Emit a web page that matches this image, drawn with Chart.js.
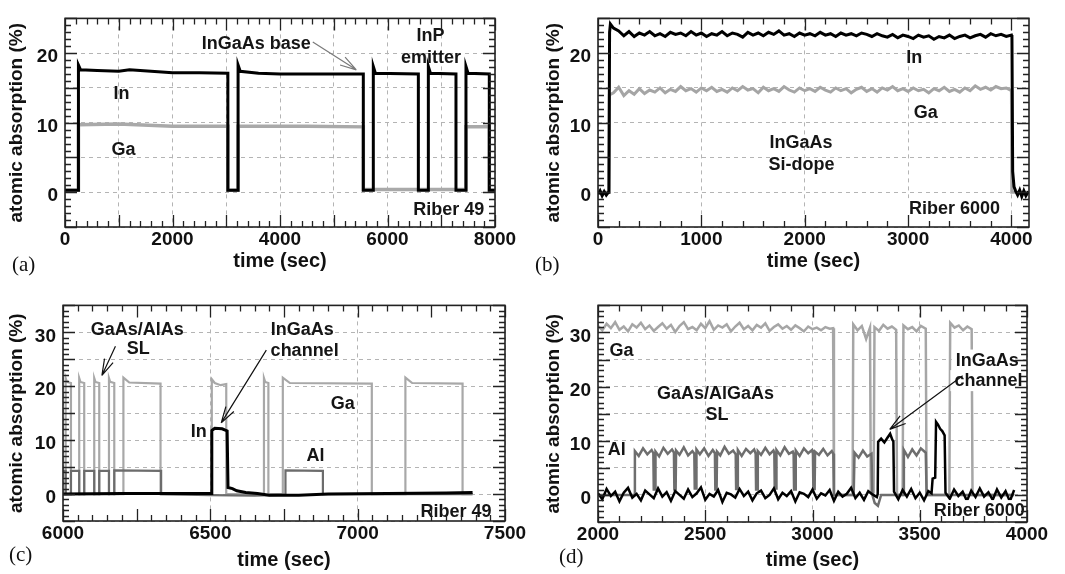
<!DOCTYPE html>
<html>
<head>
<meta charset="utf-8">
<script src="https://cdn.jsdelivr.net/npm/chart.js@4.4.0/dist/chart.umd.min.js"></script>
<style>
html, body { margin: 0; padding: 0; background: #fff; }
.panel { position: absolute; }
</style>
</head>
<body>
<div class="panel" style="left:0;top:0"><canvas id="pa" width="532" height="287"></canvas></div>
<div class="panel" style="left:532px;top:0"><canvas id="pb" width="533" height="287"></canvas></div>
<div class="panel" style="left:0;top:287px"><canvas id="pc" width="532" height="287"></canvas></div>
<div class="panel" style="left:532px;top:287px"><canvas id="pd" width="533" height="287"></canvas></div>
<script>
// axis grid / label values
const aXGrid = [0, 1000, 2000, 3000, 4000, 5000, 6000, 7000, 8000];
const aXLabels = [0, 2000, 4000, 6000, 8000];
const bXGrid = [0, 1000, 2000, 3000, 4000];
const cXGrid = [6000, 6500, 7000, 7500];
const dXGrid = [2000, 2500, 3000, 3500, 4000];
const abYGrid = [-5, 0, 5, 10, 15, 20, 25];
const abYLabels = [0, 10, 20];
const cdYGrid = [-5, 0, 5, 10, 15, 20, 25, 30, 35];
const cdYLabels = [0, 10, 20, 30];

// (a) Riber 49, InGaAs base / InP emitter
const aInT = [0, 250, 250, 290, 600, 1000, 1200, 1600, 2000, 2500, 3030, 3030, 3220, 3220, 3260, 3600, 4000, 4800, 5550, 5550, 5736, 5736, 5776, 6574, 6574, 6760, 6760, 6800, 7274, 7274, 7460, 7460, 7500, 7894, 7894, 8000];
const aInV = [0.3, 0.3, 18.3, 17.6, 17.5, 17.4, 17.6, 17.4, 17.2, 17.2, 17.1, 0.3, 0.3, 18.3, 17.4, 17.1, 17.0, 17.0, 17.0, 0.3, 0.3, 18.1, 17.1, 17.0, 0.3, 0.3, 18.1, 17.1, 17.0, 0.3, 0.3, 18.1, 17.1, 17.0, 0.3, 0.3];
const aGaT = [0, 250, 250, 1000, 2000, 3030, 3030, 3220, 3220, 4500, 5550, 5550, 7460, 7460, 7894, 7894, 8000];
const aGaV = [0.3, 0.3, 9.7, 9.8, 9.5, 9.5, 0.3, 0.3, 9.5, 9.5, 9.4, 0.4, 0.4, 9.4, 9.4, 0.3, 0.3];

// (b) Riber 6000, InGaAs Si-dope
const bMidT = [150, 200, 250, 300, 350, 400, 450, 500, 550, 600, 650, 700, 750, 800, 850, 900, 950, 1000,
  1050, 1100, 1150, 1200, 1250, 1300, 1350, 1400, 1450, 1500, 1550, 1600, 1650, 1700, 1750, 1800, 1850, 1900, 1950, 2000,
  2050, 2100, 2150, 2200, 2250, 2300, 2350, 2400, 2450, 2500, 2550, 2600, 2650, 2700, 2750, 2800, 2850, 2900, 2950, 3000,
  3050, 3100, 3150, 3200, 3250, 3300, 3350, 3400, 3450, 3500, 3550, 3600, 3650, 3700, 3750, 3800, 3850, 3900, 3950, 4000];
const bInT = [0, 20, 40, 60, 80, 100, 106, 112, 120, 135].concat(bMidT, [4005, 4012, 4025, 4040, 4060, 4080, 4100, 4120, 4140, 4165]);
const bInV = [-0.3, 0.2, -0.5, 0.1, -0.4, 0.0, 0.1, 23.0, 24.2, 23.9,
  23.6, 23.2, 22.5, 23.1, 22.4, 22.9, 22.6, 23.1, 22.5, 22.8, 22.4, 23.0, 22.7, 22.9, 22.5, 23.1, 22.6, 22.9,
  22.4, 22.8, 22.6, 23.1, 22.5, 22.9, 22.7, 22.3, 23.0, 22.6, 22.9, 22.5, 23.0, 22.7, 23.2, 22.6, 22.8, 22.4, 22.9, 22.6,
  22.8, 22.5, 23.0, 22.6, 22.8, 22.4, 22.9, 22.6, 22.8, 22.5, 22.9, 22.7, 22.4, 22.8, 22.5, 22.3, 22.7, 22.2, 22.6, 22.4,
  22.1, 22.6, 22.3, 22.5, 22.0, 22.4, 22.2, 22.6, 22.1, 22.4, 22.6, 22.2, 22.5, 22.7, 22.3, 22.8, 22.5, 22.7, 22.4, 22.6,
  22.3, 3.0, 0.8, 0.2, -0.4, 0.3, -0.6, 0.2, -0.5, 0.1];
const bGaT = [0, 105, 110].concat(bMidT, [4003, 4165]);
const bGaV = [0, 0, 14.0,
  14.3, 15.1, 13.9, 14.6, 14.1, 14.9, 14.2, 14.7, 14.4, 15.0, 14.3, 14.8, 14.5, 15.2, 14.6, 14.9, 14.4, 15.0,
  14.6, 15.1, 14.5, 14.8, 14.4, 15.0, 14.6, 15.2, 14.7, 14.9, 14.3, 15.1, 14.6, 14.9, 14.5, 15.2, 14.7, 14.4, 15.0, 14.6,
  14.9, 14.5, 15.1, 14.7, 14.4, 15.0, 14.6, 14.9, 14.3, 14.8, 15.1, 14.5, 14.9, 14.4, 15.0, 14.7, 15.2, 14.6, 14.9, 14.5,
  15.0, 14.6, 14.8, 14.3, 14.9, 14.6, 15.1, 14.5, 14.8, 14.4, 15.0, 14.6, 15.3, 14.8, 15.1, 14.7, 15.2, 14.9, 15.0, 14.6,
  0, 0];

// (c) Riber 49, GaAs/AlAs SL + InGaAs channel
const cGaT = [6000, 6009, 6009, 6013, 6027, 6027, 6055, 6055, 6059, 6072, 6072, 6106, 6106, 6110, 6123, 6123, 6156, 6156, 6160, 6174, 6174,
  6205, 6205, 6225, 6331, 6331, 6505, 6505, 6515, 6535, 6554, 6554, 6682, 6682, 6686, 6697, 6697, 6746, 6746, 6770, 7048, 7048,
  7162, 7162, 7185, 7356, 7356, 7390];
const cGaV = [0, 0, 21.5, 20.8, 20.6, 0, 0, 21.5, 20.8, 20.6, 0, 0, 21.5, 20.8, 20.6, 0, 0, 21.5, 20.8, 20.6, 0,
  0, 21.6, 20.7, 20.5, 0, 0, 21.3, 20.6, 20.2, 20.4, 0, 0, 21.5, 20.8, 20.6, 0, 0, 21.6, 20.6, 20.5, 0,
  0, 21.6, 20.6, 20.5, 0, 0];
const cAlT = [6000, 6009, 6009, 6027, 6027, 6055, 6055, 6072, 6072, 6106, 6106, 6123, 6123, 6156, 6156, 6174, 6174, 6333, 6333, 6500, 6650, 6755, 6755, 6882, 6882, 7390];
const cAlV = [4.3, 4.3, 0, 0, 4.3, 4.3, 0, 0, 4.3, 4.3, 0, 0, 4.3, 4.3, 0, 0, 4.4, 4.3, 0, -0.2, -0.3, -0.1, 4.4, 4.3, 0, 0];
const cInT = [6000, 6200, 6400, 6505, 6505, 6515, 6540, 6557, 6560, 6575, 6590, 6620, 6660, 6700, 6800, 6900, 7100, 7300, 7390];
const cInV = [0, 0.1, 0.1, 0.1, 11.8, 12.2, 12.1, 11.7, 1.2, 1.0, 0.6, 0.3, 0.1, -0.2, -0.2, 0, 0.1, 0.2, 0.3];

// (d) Riber 6000, GaAs/AlGaAs SL + InGaAs channel
const dT20 = [2000, 2020, 2040, 2060, 2080, 2100, 2120, 2140, 2160, 2180, 2200, 2220, 2240, 2260, 2280, 2300, 2320, 2340, 2360, 2380,
  2400, 2420, 2440, 2460, 2480, 2500, 2520, 2540, 2560, 2580, 2600, 2620, 2640, 2660, 2680, 2700, 2720, 2740, 2760, 2780,
  2800, 2820, 2840, 2860, 2880, 2900, 2920, 2940, 2960, 2980, 3000, 3020, 3040, 3060, 3080, 3100, 3120, 3140, 3160, 3180,
  3200, 3220, 3240, 3260, 3280, 3300];
const dGaT = dT20.slice(0, 55).concat([3096, 3100, 3187, 3190, 3210, 3230, 3250, 3268, 3272, 3285, 3289, 3310, 3330, 3350, 3370, 3390, 3394,
  3420, 3424, 3445, 3465, 3485, 3505, 3528, 3532, 3638, 3642, 3662, 3682, 3702, 3722, 3742, 3746, 3940]);
const dGaV = [31.2, 30.4, 31.6, 30.8, 31.9, 30.5, 31.1, 30.2, 31.5, 30.9, 31.8, 30.6, 31.3, 30.3, 31.0, 31.7, 30.7, 31.4, 30.1, 31.2,
  31.9, 30.6, 31.0, 30.4, 31.6, 30.8, 32.1, 30.5, 31.3, 30.9, 31.5, 30.2, 31.1, 31.8, 30.6, 31.2, 30.4, 31.4, 30.9, 31.7,
  30.3, 31.0, 31.5, 30.7, 31.2, 30.5, 31.3, 30.8, 30.2, 31.1, 30.6, 30.9, 30.4, 31.0, 30.7,
  30.8, 0, 0, 31.5, 30.4, 31.2, 28.8, 30.9, 0.5, 0.5, 31.0, 30.3, 31.4, 30.7, 31.1, 30.5, 0,
  0, 31.3, 30.6, 31.0, 30.2, 31.2, 30.7, 0, 0, 31.8, 30.9, 31.3, 30.4, 31.1, 30.6, 0, 0];
const dAlT = [2000, 2168, 2172, 2190, 2210, 2230, 2250, 2258, 2260, 2266, 2268, 2285, 2305, 2325, 2345, 2354, 2356, 2362, 2364, 2380,
  2400, 2420, 2440, 2449, 2451, 2457, 2459, 2475, 2495, 2515, 2535, 2545, 2547, 2553, 2555, 2570, 2590, 2610, 2630, 2642,
  2644, 2650, 2652, 2670, 2690, 2710, 2728, 2735, 2737, 2743, 2745, 2760, 2780, 2800, 2818, 2822, 2824, 2830, 2832, 2850,
  2870, 2890, 2908, 2912, 2914, 2920, 2922, 2940, 2960, 2980, 2998, 3002, 3004, 3010, 3012, 3030, 3050, 3070, 3090, 3097,
  3100, 3192, 3196, 3215, 3235, 3255, 3275, 3279, 3290, 3305, 3320, 3422, 3426, 3445, 3465, 3485, 3505, 3528, 3532, 3940];
const dAlV = [0, 0, 8.1, 7.2, 8.6, 7.5, 8.3, 7.7, 1.0, 1.0, 8.0, 7.1, 8.7, 7.6, 8.4, 7.8, 1.0, 1.0, 8.2, 7.4,
  8.8, 7.3, 8.1, 7.6, 1.2, 1.2, 8.4, 7.5, 8.6, 7.2, 8.3, 7.7, 1.0, 1.0, 8.0, 7.3, 8.9, 7.6, 8.2, 7.5,
  1.1, 1.1, 8.3, 7.2, 8.5, 7.7, 8.4, 7.6, 1.0, 1.0, 8.1, 7.4, 8.7, 7.5, 8.2, 7.8, 1.2, 1.2, 8.3, 7.3,
  8.8, 7.6, 8.0, 7.5, 1.0, 1.0, 8.2, 7.2, 8.6, 7.7, 8.3, 7.6, 1.1, 1.1, 8.0, 7.4, 8.5, 7.3, 8.1, 7.6,
  0, 0, 7.8, 6.9, 8.2, 7.1, 7.6, 0, -1.5, -2.0, 0, 0, 8.3, 7.0, 8.4, 7.3, 8.6, 7.8, 0, 0];
const dInT = dT20.concat([3304, 3306, 3320, 3335, 3350, 3362, 3372, 3377, 3380, 3400, 3420, 3440, 3460, 3480, 3500, 3520, 3540, 3555, 3560, 3572,
  3576, 3585, 3595, 3605, 3616, 3620, 3640, 3660, 3680, 3700, 3720, 3740, 3760, 3780, 3800, 3820, 3840, 3860, 3880, 3900, 3920, 3940]);
const dInV = [0.3, -0.8, 1.1, -0.2, 0.6, -1.2, 0.4, 1.3, -0.5, 0.2, -1.0, 0.8, 0.1, -0.6, 1.2, -0.3, 0.5, -1.1, 0.7, 0.0,
  -0.7, 1.0, -0.4, 0.3, 1.4, -0.9, 0.2, -0.3, 0.9, -1.3, 0.4, 0.1, -0.5, 1.1, -0.2, 0.6, -1.0, 0.3, 0.8, -0.6,
  0.0, 1.2, -0.8, 0.4, -0.2, 0.7, -1.2, 0.5, 0.2, -0.4, 1.0, -0.7, 0.3, -0.1, 0.9, -1.1, 0.6, -0.3, 0.2, 1.3,
  -0.6, 0.4, -0.9, 0.7, 0.1, -0.4,
  0.2, 9.8, 10.4, 9.7, 10.6, 11.3, 10.2, 9.9, 0.6, -0.8, 0.9, -0.3, 1.1, -0.6, 0.4, -1.0, 0.7, 0.3, 3.0, 3.2,
  13.5, 13.0, 12.2, 11.8, 11.0, 0.4, -0.7, 1.0, -0.2, 0.6, -1.1, 0.8, -0.4, 1.2, -0.3, 0.5, -0.9, 1.0, -0.5, 0.7, -1.2, 0.9];

const FONT = '"Liberation Sans", Arial, Helvetica, sans-serif';

function pts(t, v) { return t.map((x, i) => ({ x: x, y: v[i] })); }
function isMult(v, m) { return Math.abs(v / m - Math.round(v / m)) < 1e-6; }

function decor(cfg) {
  return {
    id: 'decor',
    afterDatasetsDraw(chart) {
      const c = chart.ctx, a = chart.chartArea, sx = chart.scales.x, sy = chart.scales.y;
      c.save();
      c.font = 'bold 18px ' + FONT;
      c.textBaseline = 'middle';
      cfg.notes.forEach(n => {
        const px = sx.getPixelForValue(n.x), py = sy.getPixelForValue(n.y);
        c.textAlign = n.align || 'center';
        if (n.box) {
          const w = c.measureText(n.text).width;
          const x0 = n.align === 'right' ? px - w : px - w / 2;
          c.fillStyle = '#fff';
          c.fillRect(x0 - 4, py - 10, w + 8, 21);
        }
        c.fillStyle = '#151515';
        c.fillText(n.text, px, py + 1);
      });
      cfg.arrows.forEach(r => {
        const x0 = sx.getPixelForValue(r.from[0]), y0 = sy.getPixelForValue(r.from[1]);
        const x1 = sx.getPixelForValue(r.to[0]), y1 = sy.getPixelForValue(r.to[1]);
        const ang = Math.atan2(y1 - y0, x1 - x0);
        c.strokeStyle = r.color;
        c.lineWidth = 1.2;
        c.beginPath();
        c.moveTo(x0, y0);
        c.lineTo(x1, y1);
        [-0.28, 0.28].forEach(d => {
          c.moveTo(x1, y1);
          c.lineTo(x1 - 17 * Math.cos(ang + d), y1 - 17 * Math.sin(ang + d));
        });
        c.stroke();
      });
      // inward ticks on all four sides
      c.strokeStyle = '#222';
      c.lineWidth = 1.3;
      c.beginPath();
      const xt = cfg.xTicks, yt = cfg.yTicks;
      for (let v = Math.ceil(sx.min / xt.minor) * xt.minor; v <= sx.max + 1e-6; v += xt.minor) {
        const p = Math.round(sx.getPixelForValue(v)) + 0.5;
        const len = isMult(v, xt.major) ? 12 : 6;
        c.moveTo(p, a.bottom); c.lineTo(p, a.bottom - len);
        c.moveTo(p, a.top); c.lineTo(p, a.top + len);
      }
      for (let v = Math.ceil(sy.min / yt.minor) * yt.minor; v <= sy.max + 1e-6; v += yt.minor) {
        const p = Math.round(sy.getPixelForValue(v)) + 0.5;
        const len = isMult(v, yt.major) ? 12 : 6;
        c.moveTo(a.left, p); c.lineTo(a.left + len, p);
        c.moveTo(a.right, p); c.lineTo(a.right - len, p);
      }
      c.stroke();
      c.lineWidth = 1.6;
      c.strokeRect(a.left, a.top, a.right - a.left, a.bottom - a.top);
      c.restore();
    },
    afterDraw(chart) {
      const c = chart.ctx;
      c.save();
      c.font = '21px "Liberation Serif", "Times New Roman", serif';
      c.fillStyle = '#111';
      c.textBaseline = 'middle';
      c.textAlign = 'left';
      c.fillText(cfg.letter, cfg.letterPos[0], cfg.letterPos[1]);
      c.restore();
    }
  };
}

function makeChart(id, cfg) {
  return new Chart(document.getElementById(id), {
    type: 'line',
    data: {
      datasets: cfg.series.map(s => ({
        data: pts(s.t, s.v),
        borderColor: s.color,
        borderWidth: s.width,
        pointRadius: 0,
        tension: 0,
        fill: false
      }))
    },
    options: {
      responsive: false,
      animation: false,
      events: [],
      layout: { padding: { top: cfg.pad[0], right: cfg.pad[1], bottom: 0, left: 0 } },
      plugins: { legend: { display: false }, tooltip: { enabled: false } },
      scales: {
        x: {
          type: 'linear',
          min: cfg.x[0], max: cfg.x[1],
          afterFit: s => { s.height = cfg.xh; },
          afterBuildTicks: s => { s.ticks = cfg.xGrid.map(v => ({ value: v })); },
          ticks: {
            autoSkip: false, maxRotation: 0,
            padding: 1, color: '#111', font: { family: FONT, size: 19, weight: 'bold' },
            callback: v => cfg.xLabels.includes(v) ? String(v) : ''
          },
          grid: { color: '#b4b4b4', lineWidth: 1, drawTicks: false },
          border: { display: false, dash: [4, 4] },
          title: { display: true, text: 'time (sec)', color: '#111', font: { family: FONT, size: 20, weight: 'bold' }, padding: { top: 0, bottom: cfg.xTitlePad } }
        },
        y: {
          type: 'linear',
          min: cfg.y[0], max: cfg.y[1],
          afterFit: s => { s.width = cfg.yw; },
          afterBuildTicks: s => { s.ticks = cfg.yGrid.map(v => ({ value: v })); },
          ticks: {
            autoSkip: false, labelOffset: 4,
            padding: 7, color: '#111', font: { family: FONT, size: 19, weight: 'bold' },
            callback: v => cfg.yLabels.includes(v) ? String(v) : ''
          },
          grid: { color: '#b4b4b4', lineWidth: 1, drawTicks: false },
          border: { display: false, dash: [4, 4] },
          title: { display: true, text: 'atomic absorption (%)', color: '#111', font: { family: FONT, size: 19, weight: 'bold' }, padding: { top: cfg.yTitlePad, bottom: 0 } }
        }
      }
    },
    plugins: [decor(cfg)]
  });
}

makeChart('pa', {
  x: [0, 8000], y: [-5, 25], pad: [8, 37], yw: 65, xh: 60, xTitlePad: 14, yTitlePad: 5,
  xGrid: aXGrid, xLabels: aXLabels, yGrid: abYGrid, yLabels: abYLabels,
  xTicks: { minor: 200, major: 1000 }, yTicks: { minor: 1, major: 5 },
  letter: '(a)', letterPos: [12, 265],
  series: [
    { t: aInT, v: aInV, color: '#000', width: 3 },
    { t: aGaT, v: aGaV, color: '#a9a9a9', width: 3.5 }
  ],
  notes: [
    { text: 'InGaAs base', x: 3560, y: 21.5 },
    { text: 'InP', x: 6800, y: 22.6 },
    { text: 'emitter', x: 6808, y: 19.4 },
    { text: 'In', x: 1050, y: 14.2 },
    { text: 'Ga', x: 1090, y: 6.2 },
    { text: 'Riber 49', x: 7800, y: -2.4, align: 'right', box: true }
  ],
  arrows: [{ from: [4610, 21.6], to: [5420, 17.6], color: '#7a7a7a' }]
});

makeChart('pb', {
  x: [0, 4170], y: [-5, 25], pad: [8, 36], yw: 66, xh: 60, xTitlePad: 14, yTitlePad: 10,
  xGrid: bXGrid, xLabels: bXGrid, yGrid: abYGrid, yLabels: abYLabels,
  xTicks: { minor: 200, major: 1000 }, yTicks: { minor: 1, major: 5 },
  letter: '(b)', letterPos: [3, 265],
  series: [
    { t: bInT, v: bInV, color: '#000', width: 3 },
    { t: bGaT, v: bGaV, color: '#a5a5a5', width: 3 }
  ],
  notes: [
    { text: 'In', x: 3060, y: 19.5 },
    { text: 'Ga', x: 3170, y: 11.5 },
    { text: 'InGaAs', x: 1965, y: 7.2 },
    { text: 'Si-dope', x: 1970, y: 4.1 },
    { text: 'Riber 6000', x: 3890, y: -2.3, align: 'right', box: true }
  ],
  arrows: []
});

makeChart('pc', {
  x: [6000, 7500], y: [-5, 35], pad: [12, 27], yw: 63, xh: 53, xTitlePad: 2, yTitlePad: 5,
  xGrid: cXGrid, xLabels: cXGrid, yGrid: cdYGrid, yLabels: cdYLabels,
  xTicks: { minor: 50, major: 250 }, yTicks: { minor: 1, major: 5 },
  letter: '(c)', letterPos: [9, 268],
  series: [
    { t: cInT, v: cInV, color: '#000', width: 3 },
    { t: cAlT, v: cAlV, color: '#6c6c6c', width: 2.2 },
    { t: cGaT, v: cGaV, color: '#a8a8a8', width: 2.2 }
  ],
  notes: [
    { text: 'GaAs/AlAs', x: 6252, y: 30.6 },
    { text: 'SL', x: 6255, y: 27.0 },
    { text: 'InGaAs', x: 6812, y: 30.6 },
    { text: 'channel', x: 6820, y: 26.7 },
    { text: 'In', x: 6461, y: 11.7 },
    { text: 'Ga', x: 6949, y: 16.8 },
    { text: 'Al', x: 6857, y: 7.2 },
    { text: 'Riber 49', x: 7454, y: -3.2, align: 'right', box: true }
  ],
  arrows: [
    { from: [6178, 27.4], to: [6132, 22.0], color: '#111' },
    { from: [6690, 26.7], to: [6537, 13.2], color: '#111' }
  ]
});

makeChart('pd', {
  x: [2000, 4000], y: [-5, 35], pad: [13, 38], yw: 66, xh: 52, xTitlePad: 2, yTitlePad: 10,
  xGrid: dXGrid, xLabels: dXGrid, yGrid: cdYGrid, yLabels: cdYLabels,
  xTicks: { minor: 100, major: 500 }, yTicks: { minor: 1, major: 5 },
  letter: '(d)', letterPos: [27, 270],
  series: [
    { t: dInT, v: dInV, color: '#000', width: 2.5 },
    { t: dAlT, v: dAlV, color: '#6e6e6e', width: 2.5 },
    { t: dGaT, v: dGaV, color: '#a6a6a6', width: 2.5 }
  ],
  notes: [
    { text: 'Ga', x: 2110, y: 26.7 },
    { text: 'GaAs/AlGaAs', x: 2548, y: 18.8 },
    { text: 'SL', x: 2555, y: 14.9 },
    { text: 'Al', x: 2087, y: 8.5 },
    { text: 'InGaAs', x: 3815, y: 25.0, box: true },
    { text: 'channel', x: 3820, y: 21.2, box: true },
    { text: 'Riber 6000', x: 3990, y: -2.8, align: 'right', box: true }
  ],
  arrows: [{ from: [3700, 22.0], to: [3360, 12.1], color: '#111' }]
});
</script>
</body>
</html>
